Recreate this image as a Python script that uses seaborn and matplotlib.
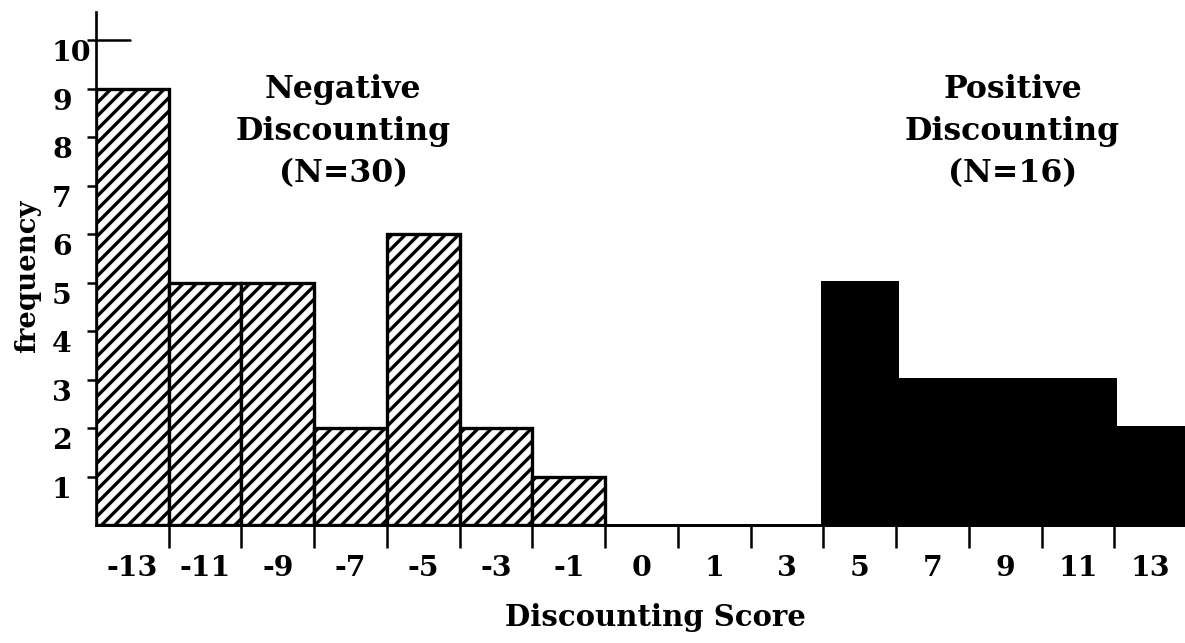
import numpy as np
import seaborn as sns
import matplotlib.pyplot as plt

# Discounting score categories and counts per category
scores = ["-13", "-11", "-9", "-7", "-5", "-3", "-1", "0", "1", "3", "5", "7", "9", "11", "13"]
counts = [9, 5, 5, 2, 6, 2, 1, 0, 0, 0, 5, 3, 3, 3, 2]
ytick_vals = [1, 2, 3, 4, 5, 6, 7, 8, 9, 10]

n_neg = sum(c for s, c in zip(scores, counts) if int(s) < 0)
n_pos = sum(c for s, c in zip(scores, counts) if int(s) > 0)

sns.set_style("ticks")
plt.rcParams["font.family"] = ["DejaVu Serif"]
plt.rcParams["font.weight"] = "bold"
plt.rcParams["hatch.linewidth"] = 2.0
for key in ["text.color", "axes.labelcolor", "axes.edgecolor", "xtick.color", "ytick.color"]:
    plt.rcParams[key] = "black"

fig = plt.figure(figsize=(1185 / 120, 643 / 120), dpi=120)
ax = fig.add_axes([96 / 1185, 118 / 643, 1089 / 1185, 513 / 643])

sns.barplot(x=scores, y=counts, order=scores, width=1, color="white",
            edgecolor="black", linewidth=2, ax=ax)

for patch, s, c in zip(ax.patches, scores, counts):
    if c == 0:
        patch.set_linewidth(0)
    elif int(s) < 0:
        patch.set_hatch("///")
        patch.set_facecolor("white")
    else:
        patch.set_facecolor("black")
        patch.set_linewidth(3)
        patch.set_joinstyle("miter")

ax.set_xlim(-0.5, 14.47)
ax.set_ylim(0, 10.58)
sns.despine(ax=ax)
ax.spines["left"].set_linewidth(1.6)
ax.spines["bottom"].set_linewidth(1.8)

# y axis ticks, labels hanging below the tick, left aligned
ax.set_yticks(ytick_vals, labels=[str(v) for v in ytick_vals],
              ha="left", va="top", fontsize=17, fontweight="bold")
ax.tick_params(axis="y", length=5.4, width=1.5, pad=21)
ax.axhline(10, xmin=0, xmax=0.031, color="black", lw=1.5)

# x axis: labels at bin centres, tick marks at bin edges
ax.set_xticks(range(len(scores)), labels=scores, fontsize=17, fontweight="bold")
ax.tick_params(axis="x", which="major", length=0, pad=18)
ax.set_xticks(np.arange(0.5, len(scores) - 1), minor=True)
ax.tick_params(axis="x", which="minor", length=14, width=1.5, direction="out")

ax.set_xlabel("Discounting Score", fontsize=17.5, fontweight="bold")
ax.xaxis.set_label_coords(0.514, -0.152)
ax.set_ylabel("frequency", fontsize=16.5, fontweight="bold")
ax.yaxis.set_label_coords(-0.05, 0.485)

ax.text(2.9, 9.3, "Negative\nDiscounting\n(N=%d)" % n_neg, ha="center", va="top",
        fontsize=19, fontweight="bold", linespacing=1.45)
ax.text(12.1, 9.3, "Positive\nDiscounting\n(N=%d)" % n_pos, ha="center", va="top",
        fontsize=19, fontweight="bold", linespacing=1.45)

fig.savefig("out.png", dpi=120)
